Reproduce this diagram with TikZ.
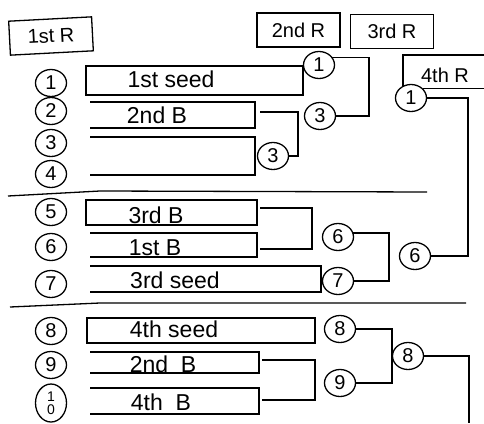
\documentclass[tikz,border=0pt]{standalone}
\usepackage{fontspec}
\setmainfont{Liberation Sans}
\usetikzlibrary{shapes.geometric}
\begin{document}
\begin{tikzpicture}[x=1pt,y=-1pt,
  ln/.style={line width=1.3pt, line join=miter},
  num/.style={draw, ellipse, line width=1.3pt, minimum width=31pt, minimum height=27pt, inner sep=0pt, font=\fontsize{20}{22}\selectfont},
  hdr/.style={draw, line width=1.3pt, minimum width=83pt, minimum height=34pt, inner sep=0pt, font=\fontsize{20}{22}\selectfont},
  lbl/.style={anchor=base, inner sep=0pt, font=\fontsize{23}{25}\selectfont},
  htxt/.style={anchor=base, inner sep=0pt, font=\fontsize{20}{22}\selectfont}]
\useasboundingbox (0,0) rectangle (484,423);

% headers
\node[hdr, rotate=3] (H1) at (51,36) {1st R};
\node[hdr] (H2) at (298.5,30) {2nd R};
\node[hdr] (H3) at (392,31.5) {3rd R};
\node[htxt] (H4) at (445,82) {4th R};

% left seed numbers
\node[num] (L1) at (51,83) {1};
\node[num] (L2) at (51,111) {2};
\node[num] (L3) at (51,143) {3};
\node[num] (L4) at (51,174) {4};
\node[num] (L5) at (51,212) {5};
\node[num] (L6) at (51,247) {6};
\node[num] (L7) at (51,284) {7};
\node[num] (L8) at (51,331) {8};
\node[num] (L9) at (51,365) {9};
\node[num, minimum height=38pt, align=center, font=\fontsize{14}{13}\selectfont] (L10) at (51,403) {1\\0};

% later-round circles
\node[num] (A1) at (319,65) {1};
\node[num] (A3) at (273,156) {3};
\node[num] (B3) at (320,116) {3};
\node[num] (A6) at (338,237) {6};
\node[num] (A7) at (338,281) {7};
\node[num] (A8) at (340,329) {8};
\node[num] (A9) at (340,383) {9};
\node[num] (D1) at (411,98) {1};
\node[num] (D6) at (415,256) {6};
\node[num] (D8) at (408,356) {8};

% 4th R box
\draw[ln] (403,86) -- (403,55) -- (484,55);
\draw[ln] (D1.40) -- ++(70,0);

% first-round entries
\draw[ln] (86,66) rectangle (303,95);
\draw[ln] (303,66) -- (A1.west);
\node[lbl] (T1) at (171,87) {1st seed};
\draw[ln] (90,102) -- (255,102) -- (255,128) -- (90,128);
\node[lbl] (T2) at (157,123) {2nd B};
\draw[ln] (90,137) -- (255,137) -- (255,175) -- (90,175);
\draw[ln] (260,112) -- (298,112) -- (298,156) -- (A3.east);
\draw[ln] (A1.30) -| (369,116) -- (B3.east);

\draw[ln] (86,200) rectangle (257,225);
\node[lbl] (T5) at (156,223) {3rd B};
\draw[ln] (90,233) -- (257,233) -- (257,257) -- (90,257);
\node[lbl] (T6) at (155,255) {1st B};
\draw[ln] (260,208) -- (312,208) -- (312,249) -- (260,249);
\draw[ln] (90,266) -- (321,266) -- (321,292) -- (90,292);
\node[lbl] (T7) at (175,288) {3rd seed};
\draw[ln] (A6.15) -| (389,281) -- (A7.east);
\draw[ln] (D1.east) -| (468,256) -- (D6.east);

\draw[ln] (87,318) rectangle (315,343);
\node[lbl] (T8) at (174,337) {4th seed};
\draw[ln] (90,352) -- (259,352) -- (259,373) -- (90,373);
\node[lbl] (T9) at (163,372) {2nd\ \ B};
\draw[ln] (90,388) -- (259,388) -- (259,414) -- (90,414);
\node[lbl] (T10) at (161,410) {4th\ \ B};
\draw[ln] (262,360) -- (315,360) -- (315,400) -- (262,400);
\draw[ln] (A8.east) -| (392,383) -- (A9.east);
\draw[ln] (D8.east) -| (469,423);

% separators
\draw[ln] (8,196) -- (100,191) -- (427,192);
\draw[ln] (10,307) -- (100,303) -- (466,303);
\end{tikzpicture}
\end{document}
